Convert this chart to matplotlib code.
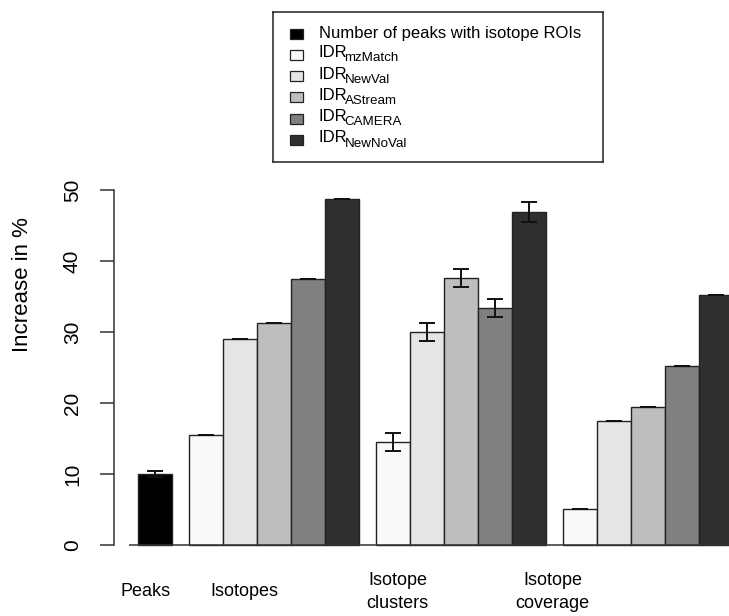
import matplotlib
matplotlib.use("Agg")
import matplotlib.pyplot as plt
from matplotlib.patches import Rectangle

plt.rcParams['font.family'] = ['Liberation Sans', 'DejaVu Sans']

# data
groups = ["Peaks", "Isotopes", "Isotope\nclusters", "Isotope\ncoverage"]
peaks = [10.0]
peaks_err = [0.4]
isotopes = [15.5, 29.0, 31.3, 37.5, 48.7]
isotopes_err = [0.0, 0.0, 0.0, 0.0, 0.0]
clusters = [14.5, 30.0, 37.6, 33.4, 46.9]
clusters_err = [1.27, 1.27, 1.27, 1.27, 1.35]
coverage = [5.1, 17.4, 19.4, 25.2, 35.2]
coverage_err = [0.0, 0.0, 0.0, 0.0, 0.0]
series_main = ["Number of peaks with isotope ROIs", "IDR", "IDR", "IDR", "IDR", "IDR"]
series_sub = ["", "mzMatch", "NewVal", "AStream", "CAMERA", "NewNoVal"]
greys = ["#000000", "#fafafa", "#e5e5e5", "#bebebe", "#808080", "#2f2f2f"]

W, H = 729, 616
fig = plt.figure(figsize=(W / 100, H / 100), dpi=100)

# main axes, one x unit = one bar (34 px), runs past the right edge like the original
ax = fig.add_axes([129.2 / W, 56.8 / H, 612 / W, 383.4 / H])
ax.set_xlim(-0.25, 17.75)
ax.set_ylim(-2, 52)

heights = [peaks, isotopes, clusters, coverage]
errors = [peaks_err, isotopes_err, clusters_err, coverage_err]
colours = [greys[:1], greys[1:], greys[1:], greys[1:]]

x = 0.0
for vals, errs, cols in zip(heights, errors, colours):
    pos = [x + i + 0.5 for i in range(len(vals))]
    ax.bar(pos, vals, width=1.0, color=cols, edgecolor="#222222", linewidth=1.0, zorder=2)
    ax.errorbar(pos, vals, yerr=errs, fmt="none", ecolor="#111111", elinewidth=1.4,
                capsize=6, capthick=1.4, zorder=3)
    x += len(vals) + 0.5

ax.axhline(0, color="#333333", linewidth=1.1, zorder=4)

for s in ["top", "right", "bottom"]:
    ax.spines[s].set_visible(False)
ax.spines["left"].set_position(("outward", 11))
ax.spines["left"].set_bounds(0, 50)
ax.spines["left"].set_color("#333333")
ax.spines["left"].set_linewidth(1.1)
ax.set_yticks(range(0, 51, 10))
ax.tick_params(axis="y", length=10, width=1.1, color="#333333", pad=13, labelsize=15)
for lab in ax.get_yticklabels():
    lab.set_rotation(90)
    lab.set_va("center")
ax.set_xticks([])

fig.text(22.4 / W, 1 - 285 / H, "Increase in %", rotation=90, ha="center", va="center",
         fontsize=16)

label_x = [0.24, 3.14, 7.65, 12.2]
for lx, g in zip(label_x, groups):
    ax.text(lx, -0.0855, g, transform=ax.get_xaxis_transform(), ha="center", va="center",
            fontsize=13, linespacing=1.4, clip_on=False)

# legend box drawn by hand, in pixel units of its own axes
bx0, by0, bw, bh = 272.7, 12, 330, 150
lax = fig.add_axes([bx0 / W, 1 - (by0 + bh) / H, bw / W, bh / H])
lax.set_xlim(0, bw)
lax.set_ylim(bh, 0)
lax.set_xticks([])
lax.set_yticks([])
for s in lax.spines.values():
    s.set_color("#222222")
    s.set_linewidth(1.1)
for i, (main, sub, col) in enumerate(zip(series_main, series_sub, greys)):
    yc = 21.5 + i * 21.3
    lax.add_patch(Rectangle((17.3, yc - 5), 13, 10, facecolor=col, edgecolor="#222222",
                            linewidth=0.9))
    t = lax.text(46.3, yc - (2 if sub else 0), main, ha="left", va="center", fontsize=12)
    if sub:
        lax.annotate(sub, xy=(1, 0), xycoords=t, xytext=(-2.2, -0.8),
                     textcoords="offset points", ha="left", va="baseline", fontsize=9.6)

fig.savefig("out.png", dpi=100)
